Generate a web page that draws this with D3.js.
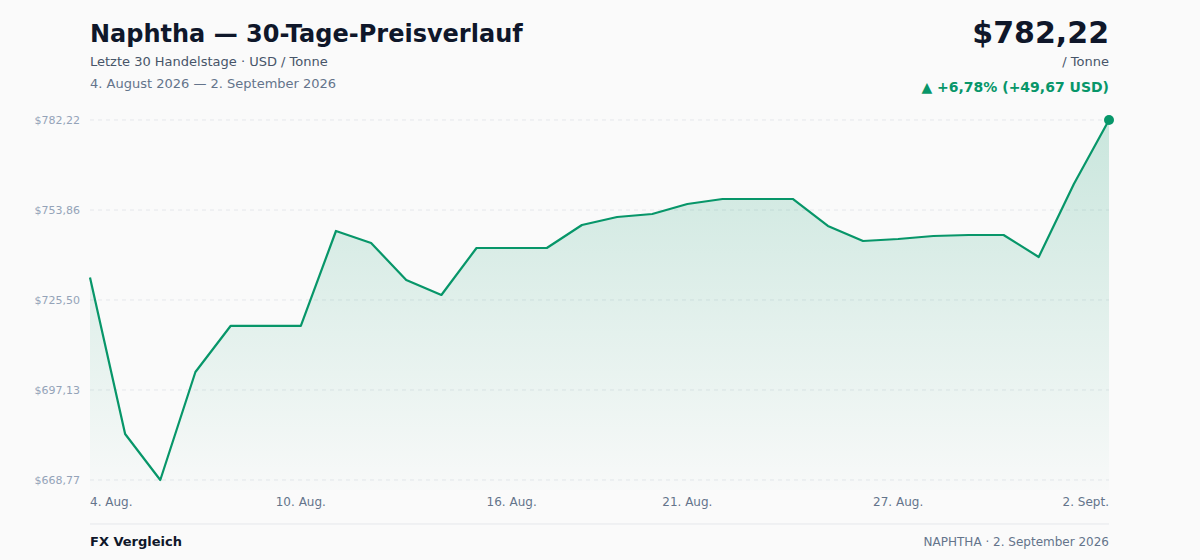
<!DOCTYPE html>
<html><head><meta charset="utf-8">
<script src="https://cdn.jsdelivr.net/npm/d3@7"></script>
<style>
body{margin:0;background:#fafafa;font-family:"DejaVu Sans",sans-serif;}
</style></head>
<body><svg id="chart" width="1200" height="560"></svg>
<script>
// price series, 4 Aug - 2 Sep 2026
var days = d3.range(30).map(function(i){ return new Date(2026, 7, 4 + i); });
var prices = [732.55,683.27,668.77,702.81,717.31,717.31,717.31,747.24,743.46,731.80,
  727.08,741.88,741.88,741.88,749.13,751.66,752.60,755.75,757.33,757.33,
  757.33,748.82,744.09,744.72,745.67,745.98,745.98,739.05,762.05,782.22];
var yTicks = [668.77,697.13,725.50,753.86,782.22];
var xTickIdx = [0,6,12,17,23,29];
var xTickLabels = ["4. Aug.","10. Aug.","16. Aug.","21. Aug.","27. Aug.","2. Sept."];

var svg = d3.select("#chart");
var x = d3.scaleLinear().domain([0,29]).range([90,1109]);
var y = d3.scaleLinear().domain([668.77,782.22]).range([480,120]);
var fmt = function(v){ return "$" + v.toFixed(2).replace(".", ","); };
var green = "#079669";

var defs = svg.append("defs");
var grad = defs.append("linearGradient").attr("id","g").attr("x1",0).attr("x2",0).attr("y1",0).attr("y2",1);
grad.append("stop").attr("offset","0%").attr("stop-color",green).attr("stop-opacity",0.2);
grad.append("stop").attr("offset","100%").attr("stop-color",green).attr("stop-opacity",0.01);

// grid
svg.selectAll(".grid").data(yTicks).enter().append("line")
  .attr("x1",90).attr("x2",1109).attr("y1",y).attr("y2",y)
  .attr("stroke","#e5e7eb").attr("stroke-dasharray","4,4");
svg.selectAll(".yl").data(yTicks).enter().append("text")
  .attr("x",80).attr("y",function(d){return y(d)+4;}).attr("text-anchor","end")
  .attr("font-size",11).attr("fill","#94a3b8").text(fmt);

svg.append("path").datum(prices)
  .attr("d", d3.area().x(function(d,i){return x(i);}).y0(490).y1(y))
  .attr("fill","url(#g)");
svg.append("path").datum(prices)
  .attr("d", d3.line().x(function(d,i){return x(i);}).y(y))
  .attr("fill","none").attr("stroke",green).attr("stroke-width",2.2).attr("stroke-linejoin","round");
svg.append("circle").attr("cx",x(29)).attr("cy",y(prices[29])).attr("r",5).attr("fill",green);

svg.selectAll(".xl").data(xTickIdx).enter().append("text")
  .attr("x",function(d){return x(d);}).attr("y",506)
  .attr("text-anchor",function(d,i){return i==0?"start":(i==5?"end":"middle");})
  .attr("font-size",12).attr("fill","#64748b")
  .text(function(d,i){return xTickLabels[i];});

// header
svg.append("text").attr("x",90).attr("y",42).attr("font-size",24).attr("font-weight","bold").attr("fill","#0f172a").text("Naphtha — 30-Tage-Preisverlauf");
svg.append("text").attr("x",90).attr("y",66).attr("font-size",13).attr("fill","#475569").text("Letzte 30 Handelstage · USD / Tonne");
svg.append("text").attr("x",90).attr("y",88).attr("font-size",13).attr("fill","#64748b").text("4. August 2026 — 2. September 2026");
svg.append("text").attr("x",1109).attr("y",43).attr("text-anchor","end").attr("font-size",30).attr("font-weight","bold").attr("fill","#0f172a").text(fmt(prices[29]));
svg.append("text").attr("x",1109).attr("y",66).attr("text-anchor","end").attr("font-size",13).attr("fill","#475569").text("/ Tonne");
svg.append("text").attr("x",1109).attr("y",92).attr("text-anchor","end").attr("font-size",14).attr("font-weight","bold").attr("fill",green).text("▲ +6,78% (+49,67 USD)");

// footer
svg.append("line").attr("x1",90).attr("x2",1109).attr("y1",524).attr("y2",524).attr("stroke","#e5e7eb");
svg.append("text").attr("x",90).attr("y",546).attr("font-size",13).attr("font-weight","bold").attr("fill","#0f172a").text("FX Vergleich");
svg.append("text").attr("x",1109).attr("y",546).attr("text-anchor","end").attr("font-size",12).attr("fill","#64748b").text("NAPHTHA · 2. September 2026");
</script></body></html>
